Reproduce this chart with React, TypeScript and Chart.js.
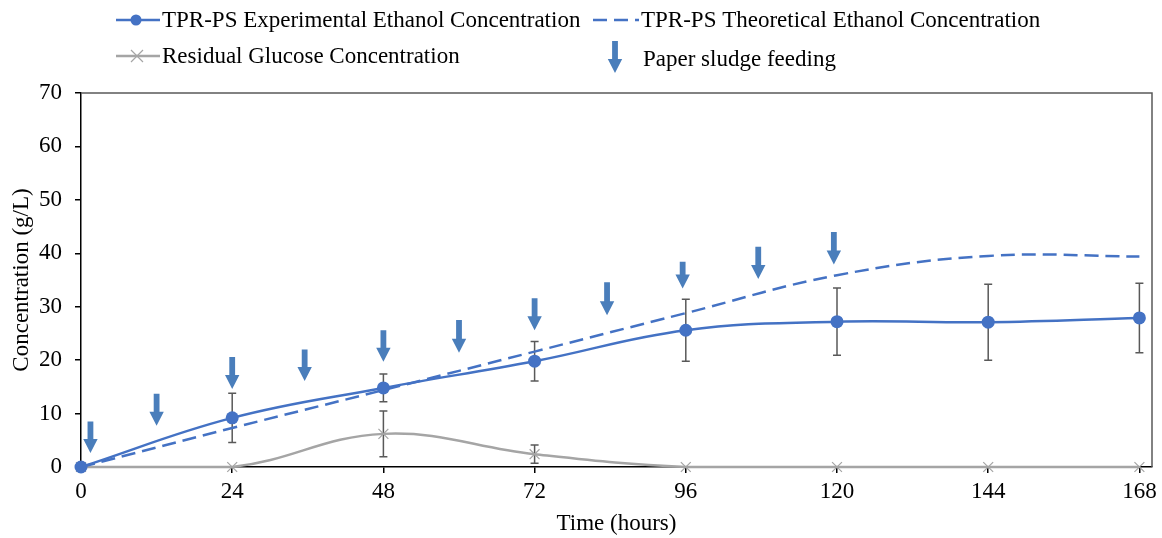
import React, { useEffect, useRef } from "react";
import { Chart, registerables } from "chart.js";

Chart.register(...registerables);

// ---- Data ----
const times = [0, 24, 48, 72, 96, 120, 144, 168];
const experimental = [0, 9.2, 14.8, 19.8, 25.6, 27.2, 27.1, 27.9];
const experimentalErr = [0, 4.6, 2.6, 3.7, 5.8, 6.3, 7.1, 6.5];
const theoretical = [0, 7.3, 14.4, 21.6, 28.8, 35.9, 39.5, 39.4];
const glucose = [0, 0, 6.2, 2.4, 0, 0, 0, 0];
const glucoseErr = [0, 0, 4.3, 1.7, 0, 0, 0, 0];

const feedTimes = [1.5, 12, 24, 35.5, 48, 60, 72, 83.5, 95.5, 107.5, 119.5];
const feedArrowTop = [8.5, 13.7, 20.6, 22.0, 25.6, 27.5, 31.6, 34.6, 38.4, 41.2, 44.0];
const feedArrowTip = [2.6, 7.7, 14.6, 16.1, 19.7, 21.4, 25.6, 28.4, 33.4, 35.2, 37.9];

const xTicks = [0, 24, 48, 72, 96, 120, 144, 168];

const seriesNames = [
  "TPR-PS Experimental Ethanol Concentration",
  "TPR-PS Theoretical Ethanol Concentration",
  "Residual Glucose Concentration",
  "Paper sludge feeding",
];

const BLUE = "#4472C4";
const GRAY = "#A5A5A5";
const ARROW = "#4A7EBB";
const ERR = "#595959";
const FONT = '"Liberation Serif", "Times New Roman", serif';
const FS = 23;

function drawArrow(ctx: CanvasRenderingContext2D, x: number, yTop: number, yTip: number) {
  const headLen = 14;
  const headHalf = 7.2;
  const shaftHalf = 2.9;
  ctx.save();
  ctx.fillStyle = ARROW;
  ctx.beginPath();
  ctx.moveTo(x - shaftHalf, yTop);
  ctx.lineTo(x + shaftHalf, yTop);
  ctx.lineTo(x + shaftHalf, yTip - headLen);
  ctx.lineTo(x + headHalf, yTip - headLen);
  ctx.lineTo(x, yTip);
  ctx.lineTo(x - headHalf, yTip - headLen);
  ctx.lineTo(x - shaftHalf, yTip - headLen);
  ctx.closePath();
  ctx.fill();
  ctx.restore();
}

const decorPlugin = {
  id: "decor",
  beforeDatasetsDraw(chart: any) {
    const { ctx, chartArea, scales } = chart;
    const xs = scales.x;
    const ys = scales.y;
    ctx.save();
    // top and right frame
    ctx.strokeStyle = ERR;
    ctx.lineWidth = 1.5;
    ctx.beginPath();
    ctx.moveTo(chartArea.left, chartArea.top);
    ctx.lineTo(chartArea.right, chartArea.top);
    ctx.lineTo(chartArea.right, chartArea.bottom);
    ctx.stroke();
    // error bars
    const drawErr = (vals: number[], errs: number[]) => {
      vals.forEach((v, i) => {
        const e = errs[i];
        if (!e) return;
        const x = xs.getPixelForValue(times[i]);
        const y1 = ys.getPixelForValue(v + e);
        const y2 = ys.getPixelForValue(v - e);
        ctx.beginPath();
        ctx.moveTo(x, y1);
        ctx.lineTo(x, y2);
        ctx.moveTo(x - 4, y1);
        ctx.lineTo(x + 4, y1);
        ctx.moveTo(x - 4, y2);
        ctx.lineTo(x + 4, y2);
        ctx.stroke();
      });
    };
    ctx.strokeStyle = ERR;
    ctx.lineWidth = 1.5;
    drawErr(experimental, experimentalErr);
    drawErr(glucose, glucoseErr);
    ctx.restore();
  },
  afterDraw(chart: any) {
    const { ctx, scales } = chart;
    const xs = scales.x;
    const ys = scales.y;
    // feeding arrows
    feedTimes.forEach((t, i) => {
      drawArrow(ctx, xs.getPixelForValue(t), ys.getPixelForValue(feedArrowTop[i]), ys.getPixelForValue(feedArrowTip[i]));
    });
    // legend
    ctx.save();
    ctx.font = `${FS}px ${FONT}`;
    ctx.fillStyle = "#000";
    ctx.textBaseline = "middle";
    ctx.textAlign = "left";
    // item 1
    ctx.strokeStyle = BLUE;
    ctx.lineWidth = 2.5;
    ctx.beginPath();
    ctx.moveTo(116, 20);
    ctx.lineTo(160, 20);
    ctx.stroke();
    ctx.fillStyle = BLUE;
    ctx.beginPath();
    ctx.arc(136, 20, 5.5, 0, Math.PI * 2);
    ctx.fill();
    ctx.fillStyle = "#000";
    ctx.fillText(seriesNames[0], 162, 21);
    // item 2
    ctx.strokeStyle = BLUE;
    ctx.setLineDash([14, 7]);
    ctx.beginPath();
    ctx.moveTo(593, 20);
    ctx.lineTo(639, 20);
    ctx.stroke();
    ctx.setLineDash([]);
    ctx.fillText(seriesNames[1], 641, 21);
    // item 3
    ctx.strokeStyle = GRAY;
    ctx.lineWidth = 2.5;
    ctx.beginPath();
    ctx.moveTo(116, 56);
    ctx.lineTo(160, 56);
    ctx.stroke();
    ctx.lineWidth = 1.2;
    ctx.beginPath();
    ctx.moveTo(131, 50);
    ctx.lineTo(143, 62);
    ctx.moveTo(143, 50);
    ctx.lineTo(131, 62);
    ctx.stroke();
    ctx.fillText(seriesNames[2], 162, 57);
    // item 4
    drawArrow(ctx, 615, 41, 73);
    ctx.fillText(seriesNames[3], 643, 60);
    ctx.restore();
  },
};

export default function App() {
  const canvasRef = useRef<HTMLCanvasElement | null>(null);

  useEffect(() => {
    document.body.style.margin = "0";
    const canvas = canvasRef.current;
    if (!canvas) return;
    const toXY = (vals: number[]) => vals.map((v, i) => ({ x: times[i], y: v }));
    const chart = new Chart(canvas, {
      type: "line",
      data: {
        datasets: [
          {
            label: seriesNames[0],
            data: toXY(experimental),
            borderColor: BLUE,
            backgroundColor: BLUE,
            borderWidth: 2.5,
            pointRadius: 6.5,
            pointBorderWidth: 0,
            pointBackgroundColor: BLUE,
            tension: 0.4,
            clip: false,
            order: 1,
          },
          {
            label: seriesNames[1],
            data: toXY(theoretical),
            borderColor: BLUE,
            borderWidth: 2.5,
            borderDash: [14, 7],
            pointRadius: 0,
            tension: 0.4,
            clip: false,
            order: 2,
          },
          {
            label: seriesNames[2],
            data: toXY(glucose),
            borderColor: GRAY,
            backgroundColor: GRAY,
            borderWidth: 2.5,
            pointStyle: "crossRot",
            pointRadius: 7,
            pointBorderWidth: 1.2,
            pointBorderColor: GRAY,
            tension: 0.4,
            clip: false,
            order: 3,
          },
        ],
      },
      options: {
        animation: false,
        responsive: false,
        layout: { padding: { left: 0, right: 10, top: 93, bottom: 0 } },
        plugins: {
          legend: { display: false },
          tooltip: { enabled: false },
        },
        scales: {
          x: {
            type: "linear",
            min: 0,
            max: 170,
            afterBuildTicks: (scale: any) => {
              scale.ticks = xTicks.map((v) => ({ value: v }));
            },
            afterFit: (scale: any) => {
              scale.height = 71;
            },
            ticks: {
              font: { family: FONT, size: FS },
              color: "#000",
              padding: 5,
              maxRotation: 0,
              autoSkip: false,
            },
            grid: {
              drawOnChartArea: false,
              drawTicks: true,
              tickLength: 6,
              color: "#000",
              lineWidth: 1.5,
            },
            border: { color: "#000", width: 1.5 },
            title: {
              display: true,
              text: "Time (hours)",
              font: { family: FONT, size: FS },
              color: "#000",
              padding: { top: 2, bottom: 0 },
            },
          },
          y: {
            min: 0,
            max: 70,
            afterFit: (scale: any) => {
              scale.width = 81;
            },
            ticks: {
              stepSize: 10,
              font: { family: FONT, size: FS },
              color: "#000",
              padding: 13,
            },
            grid: {
              drawOnChartArea: false,
              drawTicks: true,
              tickLength: 6,
              color: "#000",
              lineWidth: 1.5,
            },
            border: { color: "#000", width: 1.5 },
            title: {
              display: true,
              text: "Concentration (g/L)",
              font: { family: FONT, size: FS },
              color: "#000",
              padding: { top: 8, bottom: 0 },
            },
          },
        },
      },
      plugins: [decorPlugin],
    } as any);
    return () => chart.destroy();
  }, []);

  return (
    <div style={{ width: 1162, height: 538 }}>
      <canvas ref={canvasRef} width={1162} height={538} style={{ display: "block" }} />
    </div>
  );
}
